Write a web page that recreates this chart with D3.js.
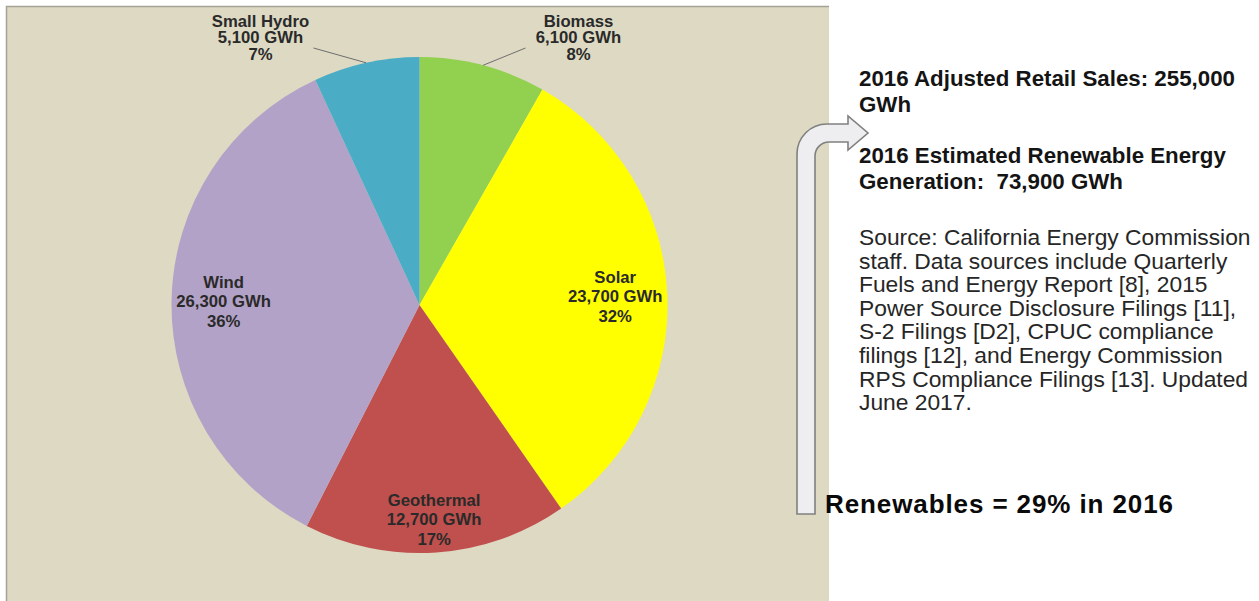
<!DOCTYPE html>
<html>
<head>
<meta charset="utf-8">
<script src="https://cdn.jsdelivr.net/npm/d3@7"></script>
<style>
  html, body { margin: 0; padding: 0; background: #ffffff; }
  svg { display: block; }
  text { white-space: pre; }
</style>
</head>
<body>
<svg id="chart" width="1259" height="601"></svg>
<script>
// ---- data ----
const categories = ["Biomass", "Solar", "Geothermal", "Wind", "Small Hydro"];
const valuesGWh = [6100, 23700, 12700, 26300, 5100];
const sliceColors = ["#92d050", "#ffff00", "#c0504d", "#b3a2c7", "#4bacc6"];
const outsideLabels = ["Biomass", "Small Hydro"];

const headlineLines = [
  "2016 Adjusted Retail Sales: 255,000",
  "GWh"
];
const renewableLines = [
  "2016 Estimated Renewable Energy",
  "Generation:  73,900 GWh"
];
const sourceLines = [
  "Source: California Energy Commission",
  "staff. Data sources include Quarterly",
  "Fuels and Energy Report [8], 2015",
  "Power Source Disclosure Filings [11],",
  "S-2 Filings [D2], CPUC compliance",
  "filings [12], and Energy Commission",
  "RPS Compliance Filings [13]. Updated",
  "June 2017."
];
const renewablesShare = "Renewables = 29% in 2016";

// ---- layout ----
const svg = d3.select("#chart");
const FONT = "'Liberation Sans', Arial, Helvetica, sans-serif";

// beige panel
svg.append("rect")
  .attr("x", 6).attr("y", 6).attr("width", 823).attr("height", 601)
  .attr("fill", "#ddd9c3");
svg.append("path")
  .attr("d", "M6.5,601 L6.5,6.5 L829,6.5")
  .attr("fill", "none").attr("stroke", "#a4a296").attr("stroke-width", 1.5);

const cx = 419.5, cy = 305, r = 248;
const total = d3.sum(valuesGWh);
const pct = d3.format(".0%");
const gwh = d3.format(",");

const data = categories.map((c, i) => ({ name: c, value: valuesGWh[i], color: sliceColors[i] }));
const pie = d3.pie().sort(null).value(d => d.value);
const arcs = pie(data);
const arc = d3.arc().innerRadius(0).outerRadius(r);

const g = svg.append("g").attr("transform", `translate(${cx},${cy})`);
g.selectAll("path.slice").data(arcs).join("path")
  .attr("class", "slice")
  .attr("d", arc)
  .attr("fill", d => d.data.color);

const labelText = d => [d.data.name, gwh(d.data.value) + " GWh", pct(d.data.value / total)];
const labelRadiusFactor = name => (name === "Geothermal" ? 0.865 : 0.79);
const LABEL_SIZE = 16.7;

// inside labels
arcs.filter(d => !outsideLabels.includes(d.data.name)).forEach(d => {
  const mid = (d.startAngle + d.endAngle) / 2;
  const lr = r * labelRadiusFactor(d.data.name);
  const x = lr * Math.sin(mid), y = -lr * Math.cos(mid);
  const t = g.append("text")
    .attr("text-anchor", "middle")
    .attr("font-family", FONT).attr("font-weight", "bold").attr("font-size", LABEL_SIZE)
    .attr("fill", "#2a2a2a");
  labelText(d).forEach((line, i) => {
    t.append("tspan").attr("x", x).attr("y", y + (i - 1) * 19.5).attr("dy", "0.36em").text(line);
  });
});

// outside labels with leader lines
arcs.filter(d => outsideLabels.includes(d.data.name)).forEach(d => {
  const mid = (d.startAngle + d.endAngle) / 2;
  const side = Math.sin(mid) >= 0 ? 1 : -1;
  const sx = r * Math.sin(mid), sy = -r * Math.cos(mid);
  const textX = side * 159;
  const textY = 37 - cy;
  const ex = textX - side * 53, ey = 48 - cy;
  g.append("line")
    .attr("x1", sx).attr("y1", sy).attr("x2", ex).attr("y2", ey)
    .attr("stroke", "#6e6e6e").attr("stroke-width", 1);
  const t = g.append("text")
    .attr("text-anchor", "middle")
    .attr("font-family", FONT).attr("font-weight", "bold").attr("font-size", LABEL_SIZE)
    .attr("fill", "#2a2a2a");
  labelText(d).forEach((line, i) => {
    t.append("tspan").attr("x", textX).attr("y", textY + (i - 1) * 16.5).attr("dy", "0.36em").text(line);
  });
});

// ---- bent arrow ----
const p = d3.path();
const xL = 797, xR = 815, yBot = 514, yT = 124, yB = 142;
const headX = 848, headTop = 116, headBot = 150, tipX = 868;
p.moveTo(xL, yBot);
p.lineTo(xL, yT + 30);
p.arcTo(xL, yT, xL + 30, yT, 30);
p.lineTo(headX, yT);
p.lineTo(headX, headTop);
p.lineTo(tipX, (headTop + headBot) / 2);
p.lineTo(headX, headBot);
p.lineTo(headX, yB);
p.lineTo(xR + 14, yB);
p.arcTo(xR, yB, xR, yB + 14, 14);
p.lineTo(xR, yBot);
p.closePath();
svg.append("path").attr("d", p.toString())
  .attr("fill", "#eeeef0").attr("stroke", "#808080").attr("stroke-width", 1.6)
  .attr("stroke-linejoin", "miter");

// ---- right-side text ----
const tx = 859;
const boldBlock = (lines, y0) => {
  const t = svg.append("text").attr("font-family", FONT).attr("font-weight", "bold")
    .attr("font-size", 22.3).attr("fill", "#141414");
  lines.forEach((l, i) => t.append("tspan").attr("x", tx).attr("y", y0 + i * 26).text(l));
};
boldBlock(headlineLines, 86);
boldBlock(renewableLines, 163);

const src = svg.append("text").attr("font-family", FONT)
  .attr("font-size", 22.8).attr("fill", "#262626");
sourceLines.forEach((l, i) => src.append("tspan").attr("x", tx).attr("y", 245 + i * 23.6).text(l));

svg.append("text")
  .attr("x", 825).attr("y", 513)
  .attr("font-family", FONT).attr("font-weight", "bold").attr("font-size", 26)
  .attr("letter-spacing", 0.9)
  .attr("fill", "#0a0a0a")
  .text(renewablesShare);
</script>
</body>
</html>
